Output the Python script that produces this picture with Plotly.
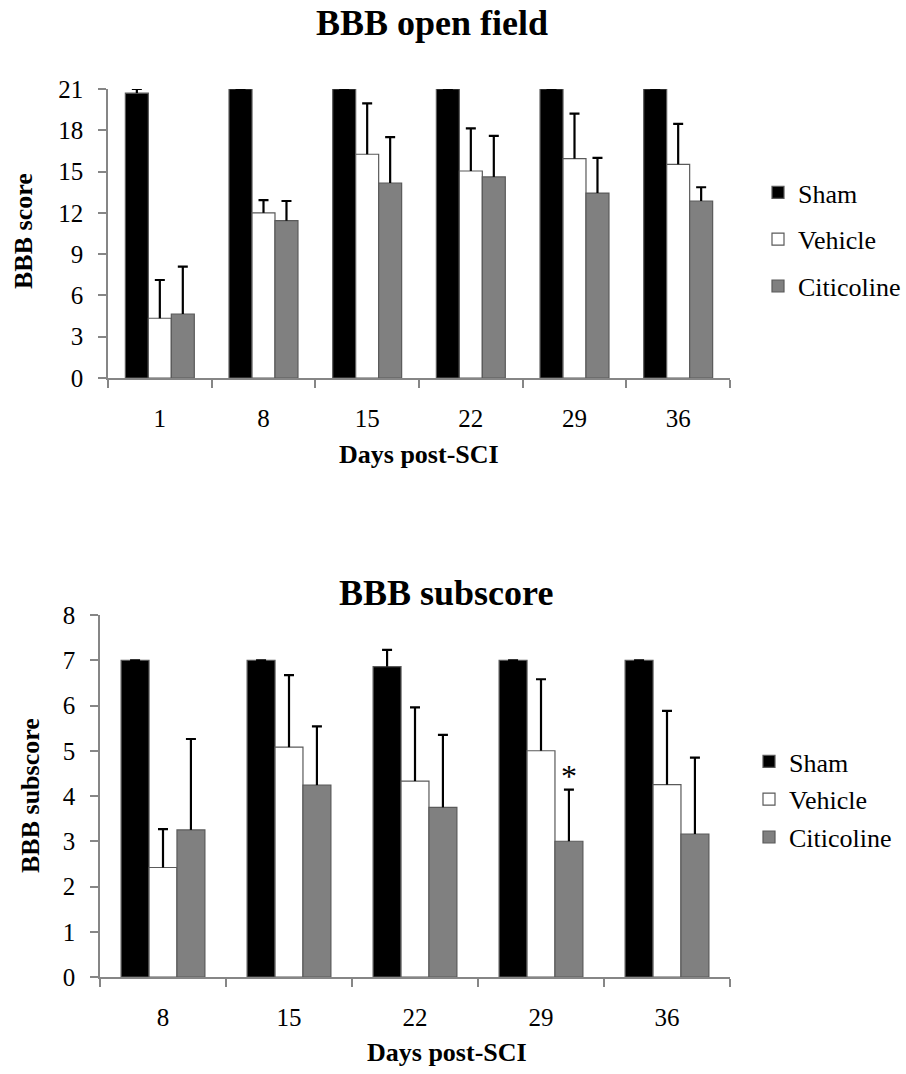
import plotly.graph_objects as go

# ---------------- data ----------------
groups = ["Sham", "Vehicle", "Citicoline"]

days_top = ["1", "8", "15", "22", "29", "36"]
sham_top = [20.7, 21, 21, 21, 21, 21]
sham_top_err = [0.3, 0, 0, 0, 0, 0]
vehicle_top = [4.34, 12.0, 16.26, 15.04, 15.94, 15.53]
vehicle_top_err = [2.78, 0.93, 3.70, 3.10, 3.27, 2.93]
citi_top = [4.65, 11.43, 14.17, 14.61, 13.44, 12.86]
citi_top_err = [3.44, 1.43, 3.34, 2.98, 2.55, 1.00]

days_bot = ["8", "15", "22", "29", "36"]
sham_bot = [7, 7, 6.86, 7, 7]
sham_bot_err = [0, 0, 0.37, 0, 0]
vehicle_bot = [2.42, 5.08, 4.33, 5.00, 4.25]
vehicle_bot_err = [0.85, 1.59, 1.63, 1.58, 1.63]
citi_bot = [3.25, 4.24, 3.75, 3.00, 3.16]
citi_bot_err = [2.01, 1.30, 1.60, 1.14, 1.69]

top_yticks = [0, 3, 6, 9, 12, 15, 18, 21]
bot_yticks = [0, 1, 2, 3, 4, 5, 6, 7, 8]

# ---------------- style ----------------
W, H = 906, 1074
FONT = "Liberation Serif, Times New Roman, Times, DejaVu Serif, serif"
fills = ["#000000", "#ffffff", "#808080"]
edge = "#5a5a5a"
axis_col = "#868686"
BARGAP = 0.335

TOP_X = (108, 730)
TOP_Y = (89, 378)
BOT_X = (100, 730)
BOT_Y = (615, 977)


def px_x(p):
    return p / W


def px_y(p):
    return 1 - p / H


fig = go.Figure()


def add_series(cats, vals, errs, name, i, xa, ya, leg, cat_px):
    # main bar
    fig.add_trace(go.Bar(
        x=cats, y=vals, name=name, xaxis=xa, yaxis=ya, offsetgroup=name,
        marker=dict(color=fills[i], line=dict(color=edge, width=1.2)),
        legend=leg, legendgroup=leg + name, cliponaxis=False,
    ))
    # upper whisker (thin bar from mean to mean+SD) with a cap drawn as a zero error bar
    fig.add_trace(go.Bar(
        x=cats, y=errs, base=vals, name=name, xaxis=xa, yaxis=ya, offsetgroup=name,
        width=2.2 / cat_px, marker=dict(color="black", line=dict(width=0)),
        error_y=dict(type="data", array=[0] * len(errs), color="black", thickness=2.2, width=5),
        showlegend=False, legend=leg, legendgroup=leg + name, cliponaxis=False,
        hoverinfo="skip",
    ))


top_cat_px = (TOP_X[1] - TOP_X[0]) / len(days_top)
bot_cat_px = (BOT_X[1] - BOT_X[0]) / len(days_bot)

top_sets = [(sham_top, sham_top_err), (vehicle_top, vehicle_top_err), (citi_top, citi_top_err)]
bot_sets = [(sham_bot, sham_bot_err), (vehicle_bot, vehicle_bot_err), (citi_bot, citi_bot_err)]

for i, (name, (vals, errs)) in enumerate(zip(groups, top_sets)):
    add_series(days_top, vals, errs, name, i, "x", "y", "legend", top_cat_px)
for i, (name, (vals, errs)) in enumerate(zip(groups, bot_sets)):
    add_series(days_bot, vals, errs, name, i, "x2", "y2", "legend2", bot_cat_px)

tickfont = dict(family=FONT, size=25, color="black")
common_x = dict(type="category", showline=True, linecolor=axis_col, linewidth=1.5,
                ticks="outside", tickson="boundaries", ticklen=8, tickcolor=axis_col,
                tickwidth=1.5, showgrid=False, zeroline=False, tickfont=tickfont,
                ticklabelstandoff=17, fixedrange=True, tickangle=0, automargin=False)
common_y = dict(showline=True, linecolor=axis_col, linewidth=1.5, ticks="outside",
                ticklen=8, tickcolor=axis_col, tickwidth=1.5, showgrid=False,
                zeroline=False, tickfont=tickfont, ticklabelstandoff=10, fixedrange=True,
                automargin=False)

fig.update_layout(
    width=W, height=H,
    margin=dict(l=0, r=0, t=0, b=0, pad=0, autoexpand=False),
    paper_bgcolor="white", plot_bgcolor="white",
    barmode="group", bargap=BARGAP, bargroupgap=0,
    font=dict(family=FONT, color="black"),
    xaxis=dict(domain=[px_x(TOP_X[0]), px_x(TOP_X[1])], anchor="y",
               range=[-0.5, len(days_top) - 0.5], **common_x),
    yaxis=dict(domain=[px_y(TOP_Y[1]), px_y(TOP_Y[0])], anchor="x", range=[0, 21],
               tickvals=top_yticks, **common_y),
    xaxis2=dict(domain=[px_x(BOT_X[0]), px_x(BOT_X[1])], anchor="y2",
                range=[-0.5, len(days_bot) - 0.5], **common_x),
    yaxis2=dict(domain=[px_y(BOT_Y[1]), px_y(BOT_Y[0])], anchor="x2", range=[0, 8],
                tickvals=bot_yticks, **common_y),
    legend=dict(x=px_x(758), y=px_y(169), xanchor="left", yanchor="top",
                font=dict(family=FONT, size=26), tracegroupgap=10,
                itemwidth=30, bgcolor="rgba(0,0,0,0)", borderwidth=0),
    legend2=dict(x=px_x(749), y=px_y(738), xanchor="left", yanchor="top",
                 font=dict(family=FONT, size=26), tracegroupgap=1,
                 itemwidth=30, bgcolor="rgba(0,0,0,0)", borderwidth=0),
    showlegend=True,
)

annos = [
    dict(text="<b>BBB open field</b>", x=px_x(432), y=px_y(23), size=36, angle=0),
    dict(text="<b>BBB subscore</b>", x=px_x(446), y=px_y(593), size=36, angle=0),
    dict(text="<b>Days post-SCI</b>", x=px_x(419), y=px_y(454), size=26, angle=0),
    dict(text="<b>Days post-SCI</b>", x=px_x(447), y=px_y(1052), size=26, angle=0),
    dict(text="<b>BBB score</b>", x=px_x(23), y=px_y(231), size=26, angle=-90),
    dict(text="<b>BBB subscore</b>", x=px_x(30), y=px_y(796), size=26, angle=-90),
]
for a in annos:
    fig.add_annotation(text=a["text"], x=a["x"], y=a["y"], xref="paper", yref="paper",
                       xanchor="center", yanchor="middle", showarrow=False,
                       textangle=a["angle"], font=dict(family=FONT, size=a["size"], color="black"))

# significance marker above Citicoline bar at day 29
bar_shift = bot_cat_px * (1 - BARGAP) / 3
k = days_bot.index("29")
fig.add_annotation(text="*", x=k, y=citi_bot[k] + citi_bot_err[k], xref="x2", yref="y2",
                   xanchor="center", yanchor="bottom", xshift=bar_shift, yshift=-6,
                   showarrow=False, font=dict(family=FONT, size=32, color="black"))

fig.write_html("out.html", config={"displayModeBar": False},
               post_script="document.body.style.margin='0';")
